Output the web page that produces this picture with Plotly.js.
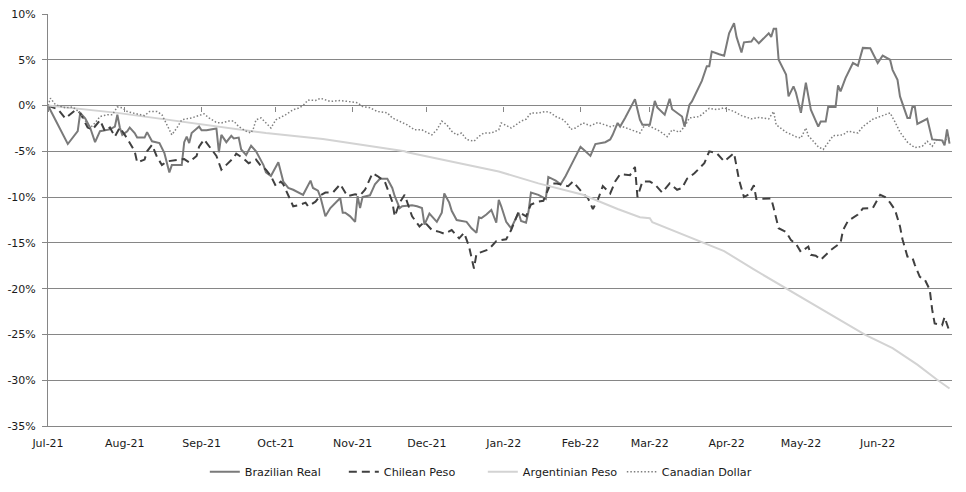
<!DOCTYPE html>
<html>
<head>
<meta charset="utf-8">
<script src="https://cdn.plot.ly/plotly-3.0.1.min.js"></script>
<style>
html,body{margin:0;padding:0;background:#fff;}
#chart{width:966px;height:492px;}
</style>
</head>
<body>
<div id="chart"></div>
<script>
// Month tick positions and labels
const monthTicks = ['2021-07-01','2021-08-01','2021-09-01','2021-10-01','2021-11-01','2021-12-01','2022-01-01','2022-02-01','2022-03-01','2022-04-01','2022-05-01','2022-06-01'];
const monthLabels = ['Jul-21','Aug-21','Sep-21','Oct-21','Nov-21','Dec-21','Jan-22','Feb-22','Mar-22','Apr-22','May-22','Jun-22'];
const yTicks = [10,5,0,-5,-10,-15,-20,-25,-30,-35];

// Brazilian Real (% change)
const brlDates = ['2021-07-01','2021-07-09','2021-07-13','2021-07-14','2021-07-16','2021-07-18','2021-07-20','2021-07-22','2021-07-26','2021-07-28','2021-07-29','2021-07-30','2021-07-31','2021-08-02','2021-08-03','2021-08-05','2021-08-06','2021-08-09','2021-08-10','2021-08-12','2021-08-15','2021-08-17','2021-08-19','2021-08-20','2021-08-24','2021-08-25','2021-08-26','2021-08-27','2021-08-28','2021-08-31','2021-09-01','2021-09-03','2021-09-07','2021-09-08','2021-09-09','2021-09-11','2021-09-13','2021-09-14','2021-09-16','2021-09-17','2021-09-19','2021-09-21','2021-09-23','2021-09-25','2021-09-26','2021-09-27','2021-09-29','2021-10-02','2021-10-03','2021-10-04','2021-10-06','2021-10-08','2021-10-12','2021-10-15','2021-10-16','2021-10-18','2021-10-19','2021-10-21','2021-10-23','2021-10-25','2021-10-27','2021-10-28','2021-10-29','2021-10-31','2021-11-02','2021-11-03','2021-11-04','2021-11-05','2021-11-08','2021-11-09','2021-11-10','2021-11-12','2021-11-15','2021-11-17','2021-11-18','2021-11-20','2021-11-21','2021-11-25','2021-11-27','2021-11-29','2021-11-30','2021-12-02','2021-12-03','2021-12-05','2021-12-07','2021-12-08','2021-12-10','2021-12-11','2021-12-13','2021-12-17','2021-12-19','2021-12-21','2021-12-22','2021-12-23','2021-12-25','2021-12-27','2021-12-29','2021-12-30','2021-12-31','2022-01-02','2022-01-04','2022-01-07','2022-01-08','2022-01-10','2022-01-11','2022-01-12','2022-01-15','2022-01-18','2022-01-19','2022-01-22','2022-01-24','2022-01-26','2022-01-29','2022-02-01','2022-02-03','2022-02-05','2022-02-07','2022-02-11','2022-02-13','2022-02-14','2022-02-16','2022-02-17','2022-02-19','2022-02-23','2022-02-25','2022-02-26','2022-03-01','2022-03-03','2022-03-04','2022-03-07','2022-03-09','2022-03-10','2022-03-14','2022-03-15','2022-03-17','2022-03-18','2022-03-22','2022-03-24','2022-03-25','2022-03-26','2022-03-29','2022-03-31','2022-04-02','2022-04-04','2022-04-05','2022-04-07','2022-04-08','2022-04-11','2022-04-12','2022-04-14','2022-04-18','2022-04-19','2022-04-20','2022-04-21','2022-04-22','2022-04-25','2022-04-26','2022-04-28','2022-04-29','2022-05-01','2022-05-03','2022-05-05','2022-05-08','2022-05-09','2022-05-11','2022-05-12','2022-05-15','2022-05-16','2022-05-17','2022-05-19','2022-05-22','2022-05-24','2022-05-26','2022-05-29','2022-06-01','2022-06-03','2022-06-06','2022-06-07','2022-06-09','2022-06-10','2022-06-13','2022-06-14','2022-06-15','2022-06-16','2022-06-17','2022-06-21','2022-06-23','2022-06-27','2022-06-28','2022-06-29','2022-06-30'];
const brlValues = [0,-4.2,-2.8,-0.8,-1.4,-2.4,-4.0,-2.8,-2.6,-2.3,-1.0,-2.4,-3.2,-2.8,-2.4,-3.0,-3.5,-3.5,-2.9,-3.9,-4.1,-5.2,-7.3,-6.5,-6.5,-4.0,-3.4,-4.1,-3.0,-2.3,-2.7,-2.7,-2.5,-5.1,-3.2,-4.0,-3.3,-3.6,-3.5,-4.8,-5.4,-4.4,-5.0,-5.9,-6.5,-7.3,-7.7,-6.2,-7.2,-8.3,-9.0,-9.2,-9.75,-8.2,-9.0,-9.3,-10.0,-12.1,-11.2,-10.6,-10.1,-11.7,-11.7,-12.1,-12.7,-9.9,-11.2,-10.0,-9.8,-9.2,-8.6,-8.0,-8.0,-9.0,-9.9,-11.2,-11.0,-10.9,-11.0,-11.2,-13.0,-11.8,-12.1,-12.7,-11.7,-9.6,-10.6,-11.5,-12.5,-12.7,-13.4,-13.9,-12.2,-12.3,-11.9,-11.4,-12.8,-10.3,-11.0,-12.7,-13.4,-11.7,-12.6,-12.8,-11.6,-9.5,-9.75,-10.2,-7.8,-8.2,-8.6,-7.7,-6.1,-4.5,-5.0,-5.5,-4.2,-4.0,-3.7,-3.2,-1.9,-2.3,-1.35,0.7,-1.55,-2.1,-2.1,0.5,-0.2,-1.0,0.75,-0.4,-1.2,-2.3,0.1,0.45,2.7,4.3,4.3,5.9,5.6,5.45,7.9,9.0,7.5,5.8,6.9,7.0,7.4,6.8,7.9,7.5,8.4,8.4,5.0,3.4,1.0,2.1,1.4,-0.8,2.5,-0.45,-2.3,-1.75,-1.75,-0.15,-0.15,2.2,1.55,3.0,4.65,4.35,6.3,6.25,4.65,5.45,5.0,3.9,2.8,1.0,-1.35,-1.35,-0.15,-0.15,-2.0,-1.45,-3.7,-3.8,-4.35,-2.6,-4.15];

// Chilean Peso (% change)
const clpDates = ['2021-07-01','2021-07-05','2021-07-08','2021-07-11','2021-07-12','2021-07-14','2021-07-17','2021-07-19','2021-07-22','2021-07-24','2021-07-26','2021-07-28','2021-07-30','2021-08-02','2021-08-04','2021-08-05','2021-08-06','2021-08-09','2021-08-10','2021-08-12','2021-08-14','2021-08-16','2021-08-18','2021-08-20','2021-08-23','2021-08-25','2021-08-27','2021-08-30','2021-08-31','2021-09-02','2021-09-04','2021-09-07','2021-09-09','2021-09-11','2021-09-14','2021-09-15','2021-09-18','2021-09-20','2021-09-23','2021-09-25','2021-09-27','2021-09-29','2021-10-01','2021-10-03','2021-10-04','2021-10-06','2021-10-08','2021-10-10','2021-10-13','2021-10-14','2021-10-17','2021-10-19','2021-10-21','2021-10-24','2021-10-27','2021-10-29','2021-10-30','2021-11-02','2021-11-04','2021-11-06','2021-11-09','2021-11-11','2021-11-14','2021-11-17','2021-11-18','2021-11-20','2021-11-22','2021-11-25','2021-11-28','2021-11-30','2021-12-03','2021-12-06','2021-12-08','2021-12-11','2021-12-14','2021-12-16','2021-12-18','2021-12-20','2021-12-21','2021-12-26','2021-12-29','2022-01-02','2022-01-04','2022-01-07','2022-01-10','2022-01-12','2022-01-15','2022-01-17','2022-01-20','2022-01-22','2022-01-24','2022-01-27','2022-01-29','2022-02-02','2022-02-04','2022-02-06','2022-02-08','2022-02-10','2022-02-13','2022-02-15','2022-02-17','2022-02-21','2022-02-23','2022-02-24','2022-02-26','2022-03-01','2022-03-03','2022-03-06','2022-03-09','2022-03-12','2022-03-14','2022-03-16','2022-03-19','2022-03-23','2022-03-25','2022-03-28','2022-03-31','2022-04-02','2022-04-04','2022-04-06','2022-04-08','2022-04-10','2022-04-12','2022-04-13','2022-04-19','2022-04-20','2022-04-22','2022-04-25','2022-04-27','2022-04-29','2022-05-01','2022-05-04','2022-05-05','2022-05-07','2022-05-09','2022-05-13','2022-05-17','2022-05-18','2022-05-20','2022-05-24','2022-05-26','2022-05-30','2022-06-02','2022-06-04','2022-06-06','2022-06-08','2022-06-10','2022-06-11','2022-06-13','2022-06-15','2022-06-16','2022-06-18','2022-06-20','2022-06-22','2022-06-23','2022-06-24','2022-06-27','2022-06-28','2022-06-30'];
const clpValues = [0,-0.4,-1.4,-0.8,-0.5,-0.8,-2.4,-2.6,-1.6,-2.8,-2.4,-3.4,-2.4,-3.6,-4.5,-5.0,-6.2,-5.9,-5.0,-4.3,-5.6,-6.5,-6.1,-6.0,-5.9,-5.85,-6.2,-5.5,-4.5,-3.7,-4.4,-5.5,-7.0,-6.5,-5.7,-5.25,-5.8,-6.3,-5.9,-6.6,-7.0,-7.7,-8.8,-8.3,-8.6,-9.8,-11.0,-10.9,-10.6,-11.0,-10.5,-9.8,-9.5,-9.5,-8.6,-9.5,-9.9,-9.7,-9.8,-9.2,-7.4,-7.7,-8.3,-10.5,-12.1,-10.6,-9.75,-12.1,-13.2,-12.7,-13.6,-13.8,-14.0,-13.6,-14.5,-13.9,-15.4,-17.8,-16.2,-15.7,-14.8,-14.6,-13.6,-11.6,-12.1,-10.8,-10.5,-10.4,-8.5,-8.5,-8.6,-8.8,-8.3,-9.6,-10.1,-11.3,-10.3,-8.8,-9.6,-8.3,-7.5,-7.6,-6.7,-10.0,-8.3,-8.3,-8.6,-9.5,-8.5,-9.2,-9.0,-8.0,-7.4,-6.3,-5.0,-5.2,-6.1,-5.6,-5.2,-8.1,-10.0,-9.7,-8.7,-10.2,-10.15,-11.2,-13.4,-13.8,-14.7,-15.1,-16.0,-15.4,-16.3,-16.4,-16.85,-15.8,-15.0,-13.6,-12.6,-11.9,-11.25,-11.2,-9.75,-10.0,-10.6,-11.4,-13.2,-14.6,-16.5,-16.6,-17.4,-18.7,-19.0,-20.1,-22.3,-23.8,-24.0,-23.1,-24.7];

// Argentinian Peso (% change)
const arsDates = ['2021-07-01','2021-07-29','2021-09-27','2021-10-12','2021-10-20','2021-11-22','2021-11-23','2021-12-30','2022-01-15','2022-02-02','2022-02-16','2022-02-25','2022-03-01','2022-03-02','2022-03-23','2022-03-31','2022-04-12','2022-04-26','2022-05-16','2022-05-27','2022-06-07','2022-06-17','2022-06-25','2022-06-30'];
const arsValues = [0,-0.8,-3.0,-3.4,-3.65,-5.0,-5.1,-7.2,-8.5,-9.75,-11.3,-12.2,-12.3,-12.75,-15.0,-15.9,-17.9,-20.1,-23.3,-25.05,-26.5,-28.3,-29.95,-30.9];

// Canadian Dollar (% change)
const cadDates = ['2021-07-01','2021-07-02','2021-07-04','2021-07-08','2021-07-11','2021-07-14','2021-07-18','2021-07-20','2021-07-22','2021-07-25','2021-07-27','2021-07-29','2021-07-31','2021-08-02','2021-08-04','2021-08-09','2021-08-11','2021-08-14','2021-08-16','2021-08-18','2021-08-20','2021-08-22','2021-08-24','2021-08-28','2021-09-02','2021-09-04','2021-09-07','2021-09-09','2021-09-12','2021-09-14','2021-09-16','2021-09-19','2021-09-21','2021-09-22','2021-09-23','2021-09-25','2021-09-29','2021-10-01','2021-10-03','2021-10-05','2021-10-08','2021-10-10','2021-10-12','2021-10-14','2021-10-17','2021-10-19','2021-10-23','2021-10-27','2021-10-30','2021-11-03','2021-11-05','2021-11-08','2021-11-11','2021-11-15','2021-11-17','2021-11-20','2021-11-23','2021-11-26','2021-11-29','2021-11-30','2021-12-03','2021-12-05','2021-12-07','2021-12-09','2021-12-11','2021-12-13','2021-12-15','2021-12-17','2021-12-20','2021-12-22','2021-12-24','2021-12-27','2021-12-30','2021-12-31','2022-01-02','2022-01-04','2022-01-06','2022-01-08','2022-01-10','2022-01-12','2022-01-15','2022-01-18','2022-01-20','2022-01-22','2022-01-25','2022-01-27','2022-01-28','2022-01-30','2022-02-02','2022-02-05','2022-02-08','2022-02-11','2022-02-13','2022-02-16','2022-02-19','2022-02-21','2022-02-25','2022-02-27','2022-03-02','2022-03-05','2022-03-08','2022-03-10','2022-03-13','2022-03-15','2022-03-17','2022-03-21','2022-03-25','2022-03-28','2022-03-31','2022-04-04','2022-04-07','2022-04-11','2022-04-14','2022-04-18','2022-04-20','2022-04-21','2022-04-25','2022-04-29','2022-05-01','2022-05-03','2022-05-04','2022-05-08','2022-05-10','2022-05-12','2022-05-14','2022-05-18','2022-05-20','2022-05-24','2022-05-26','2022-05-30','2022-06-03','2022-06-06','2022-06-08','2022-06-10','2022-06-13','2022-06-16','2022-06-19','2022-06-21','2022-06-23','2022-06-25','2022-06-27','2022-06-30'];
const cadValues = [0,0.8,0.1,-0.25,-0.15,-0.8,-2.45,-1.9,-1.2,-1.0,-1.0,-0.15,-0.25,-0.65,-0.8,-1.1,-0.65,-0.65,-1.0,-2.1,-3.2,-2.45,-1.55,-1.35,-0.9,-1.35,-1.85,-1.9,-1.7,-1.7,-2.3,-2.8,-3.0,-2.45,-1.55,-1.35,-2.45,-1.55,-1.25,-1.0,-0.45,-0.3,0.0,0.6,0.55,0.8,0.45,0.55,0.45,0.3,-0.1,-0.25,-0.65,-0.8,-1.35,-1.7,-2.1,-2.65,-2.65,-2.8,-3.2,-2.65,-1.7,-2.1,-2.8,-3.2,-3.0,-3.7,-3.9,-3.35,-3.0,-3.0,-2.65,-1.9,-2.2,-2.45,-2.1,-1.7,-1.5,-0.8,-0.8,-0.65,-0.8,-1.2,-1.55,-2.1,-2.6,-2.45,-1.9,-2.2,-1.85,-2.1,-2.3,-2.1,-2.45,-2.6,-3.0,-2.1,-2.4,-2.8,-3.4,-2.65,-2.9,-2.3,-1.35,-1.2,-0.3,-0.45,-0.25,-0.65,-1.1,-1.45,-1.3,-1.45,-0.65,-2.1,-2.9,-3.4,-3.55,-2.45,-3.3,-4.5,-4.8,-4.0,-3.3,-3.2,-2.8,-3.0,-2.3,-1.5,-1.1,-0.8,-1.8,-2.9,-4.0,-4.6,-4.45,-3.9,-4.45,-3.7,-3.9,-3.55];

const FONT = 'DejaVu Sans, Verdana, sans-serif';
const GRID = '#868686';
const TXT = '#1a1a1a';

const traces = [
  {x: brlDates, y: brlValues, name: 'Brazilian Real', type: 'scatter', mode: 'lines',
   line: {color: '#7a7a7a', width: 2}},
  {x: clpDates, y: clpValues, name: 'Chilean Peso', type: 'scatter', mode: 'lines',
   line: {color: '#404040', width: 2, dash: '8px,5px'}},
  {x: arsDates, y: arsValues, name: 'Argentinian Peso', type: 'scatter', mode: 'lines',
   line: {color: '#d3d3d3', width: 2}},
  {x: cadDates, y: cadValues, name: 'Canadian Dollar', type: 'scatter', mode: 'lines',
   xaxis: 'x2', line: {color: '#7f7f7f', width: 1.5, dash: '1.5px,2px'}}
];

const layout = {
  width: 966, height: 492,
  margin: {l: 48, r: 14, t: 14, b: 66, autoexpand: false},
  paper_bgcolor: '#ffffff', plot_bgcolor: '#ffffff',
  font: {family: FONT, size: 11, color: TXT},
  showlegend: true,
  legend: {orientation: 'h', x: 0.481, xanchor: 'center', y: -0.111, yanchor: 'middle',
           font: {family: FONT, size: 11.2, color: TXT}, itemwidth: 30, traceorder: 'normal',
           entrywidth: 94, entrywidthmode: 'pixels'},
  xaxis: {type: 'date', range: ['2021-07-01', '2022-07-01'], automargin: false,
          tickmode: 'array', tickvals: monthTicks, ticktext: monthLabels,
          showgrid: false, zeroline: false, showline: true, linecolor: GRID, linewidth: 1,
          ticks: '', ticklabelstandoff: 7, tickfont: {family: FONT, size: 11, color: TXT}},
  xaxis2: {type: 'date', matches: 'x', overlaying: 'x', anchor: 'free', position: 35/45,
           tickmode: 'array', tickvals: monthTicks, ticktext: monthLabels, automargin: false,
           showticklabels: false, showgrid: false, zeroline: false, showline: false,
           ticks: 'outside', ticklen: 5, tickcolor: GRID, tickwidth: 1},
  yaxis: {range: [-35, 10], tickmode: 'array', tickvals: yTicks, automargin: false,
          ticktext: yTicks.map(v => v + '%'),
          showgrid: true, gridcolor: GRID, gridwidth: 1, zeroline: false,
          showline: true, linecolor: GRID, linewidth: 1,
          ticks: 'outside', ticklen: 5, tickcolor: GRID, ticklabelstandoff: 4,
          tickfont: {family: FONT, size: 11, color: TXT}}
};

Plotly.newPlot('chart', traces, layout, {displayModeBar: false, staticPlot: true});
</script>
</body>
</html>
